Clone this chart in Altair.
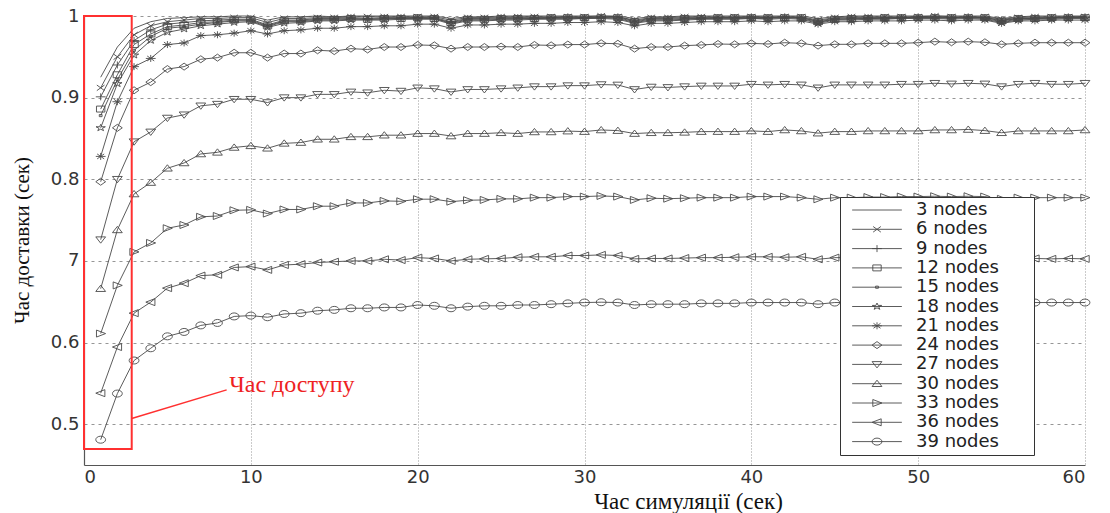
import altair as alt
import pandas as pd

# ---------------- data ----------------
x_values = list(range(1, 61))

series_labels = ["\u00a03 nodes", "\u00a06 nodes", "\u00a09 nodes", "12 nodes", "15 nodes",
                 "18 nodes", "21 nodes", "24 nodes", "27 nodes", "30 nodes",
                 "33 nodes", "36 nodes", "39 nodes"]

s3 = [0.925, 0.962, 0.985, 0.993, 0.997, 0.998, 0.999, 0.999, 1.000, 1.000,
      0.995, 0.999, 0.999, 1.000, 0.999, 1.000, 1.000, 1.000, 1.000, 1.000,
      1.000, 0.997, 0.999, 0.999, 1.000, 1.000, 1.000, 1.000, 1.000, 1.000,
      1.000, 1.000, 0.997, 0.999, 0.999, 1.000, 1.000, 1.000, 1.000, 1.000,
      1.000, 1.000, 1.000, 0.997, 0.999, 1.000, 1.000, 1.000, 1.000, 1.000,
      1.000, 1.000, 1.000, 1.000, 0.997, 0.999, 1.000, 1.000, 1.000, 1.000]
s6 = [0.912, 0.950, 0.977, 0.988, 0.993, 0.995, 0.997, 0.997, 0.998, 0.998,
      0.992, 0.997, 0.997, 0.998, 0.998, 0.999, 0.999, 0.999, 0.999, 0.999,
      0.999, 0.995, 0.998, 0.998, 0.999, 0.999, 0.999, 0.999, 0.999, 0.999,
      1.000, 0.999, 0.995, 0.998, 0.998, 0.999, 0.999, 0.999, 0.999, 0.999,
      0.999, 0.999, 0.999, 0.995, 0.998, 0.999, 0.999, 0.999, 0.999, 0.999,
      1.000, 0.999, 0.999, 0.999, 0.996, 0.998, 0.999, 0.999, 0.999, 0.999]
s9 = [0.901, 0.940, 0.970, 0.983, 0.990, 0.992, 0.994, 0.995, 0.996, 0.996,
      0.989, 0.995, 0.995, 0.997, 0.997, 0.998, 0.997, 0.998, 0.998, 0.998,
      0.998, 0.993, 0.997, 0.997, 0.998, 0.998, 0.998, 0.998, 0.999, 0.998,
      0.999, 0.999, 0.994, 0.997, 0.997, 0.998, 0.998, 0.998, 0.998, 0.999,
      0.998, 0.999, 0.998, 0.994, 0.997, 0.998, 0.998, 0.998, 0.998, 0.999,
      0.999, 0.998, 0.999, 0.998, 0.995, 0.997, 0.998, 0.998, 0.999, 0.999]
s12 = [0.886, 0.928, 0.965, 0.978, 0.987, 0.989, 0.992, 0.993, 0.995, 0.995,
       0.988, 0.994, 0.994, 0.996, 0.996, 0.997, 0.996, 0.997, 0.997, 0.998,
       0.997, 0.992, 0.996, 0.996, 0.997, 0.997, 0.997, 0.998, 0.998, 0.998,
       0.998, 0.998, 0.993, 0.996, 0.996, 0.997, 0.997, 0.998, 0.998, 0.998,
       0.998, 0.998, 0.998, 0.993, 0.996, 0.997, 0.997, 0.998, 0.998, 0.998,
       0.998, 0.998, 0.998, 0.998, 0.994, 0.997, 0.997, 0.998, 0.998, 0.998]
s15 = [0.878, 0.922, 0.958, 0.975, 0.985, 0.987, 0.990, 0.992, 0.994, 0.994,
       0.987, 0.993, 0.993, 0.995, 0.995, 0.996, 0.996, 0.996, 0.997, 0.997,
       0.997, 0.991, 0.995, 0.995, 0.996, 0.996, 0.997, 0.997, 0.997, 0.997,
       0.998, 0.997, 0.992, 0.995, 0.995, 0.996, 0.997, 0.997, 0.997, 0.997,
       0.997, 0.998, 0.997, 0.992, 0.996, 0.996, 0.997, 0.997, 0.997, 0.998,
       0.998, 0.997, 0.998, 0.997, 0.993, 0.996, 0.997, 0.997, 0.998, 0.998]
s18 = [0.863, 0.917, 0.952, 0.970, 0.980, 0.984, 0.988, 0.990, 0.992, 0.993,
       0.986, 0.991, 0.992, 0.994, 0.994, 0.995, 0.995, 0.995, 0.996, 0.996,
       0.996, 0.990, 0.994, 0.994, 0.995, 0.995, 0.996, 0.996, 0.996, 0.997,
       0.997, 0.996, 0.991, 0.994, 0.994, 0.995, 0.996, 0.996, 0.996, 0.997,
       0.996, 0.997, 0.996, 0.991, 0.995, 0.995, 0.996, 0.996, 0.997, 0.997,
       0.997, 0.996, 0.997, 0.996, 0.992, 0.995, 0.996, 0.996, 0.997, 0.997]
s21 = [0.828, 0.895, 0.938, 0.948, 0.965, 0.967, 0.976, 0.977, 0.979, 0.982,
       0.978, 0.982, 0.983, 0.985, 0.985, 0.987, 0.987, 0.988, 0.988, 0.990,
       0.990, 0.985, 0.989, 0.989, 0.990, 0.990, 0.991, 0.991, 0.992, 0.992,
       0.993, 0.992, 0.988, 0.991, 0.991, 0.992, 0.993, 0.993, 0.993, 0.994,
       0.993, 0.994, 0.994, 0.990, 0.993, 0.993, 0.994, 0.994, 0.994, 0.995,
       0.995, 0.994, 0.995, 0.995, 0.991, 0.994, 0.994, 0.995, 0.995, 0.995]
s24 = [0.797, 0.863, 0.909, 0.919, 0.935, 0.938, 0.947, 0.949, 0.955, 0.955,
       0.949, 0.954, 0.954, 0.958, 0.957, 0.960, 0.959, 0.962, 0.962, 0.9645,
       0.964, 0.960, 0.962, 0.962, 0.9625, 0.962, 0.9645, 0.964, 0.965, 0.965,
       0.9666, 0.966, 0.960, 0.962, 0.962, 0.9637, 0.9645, 0.9657, 0.9653, 0.9665,
       0.9657, 0.9673, 0.9665, 0.9637, 0.9653, 0.9653, 0.9665, 0.9665, 0.9665, 0.9673,
       0.9686, 0.9678, 0.9686, 0.9678, 0.9653, 0.9665, 0.9673, 0.9673, 0.9673, 0.9673]
s27 = [0.726, 0.800, 0.846, 0.858, 0.875, 0.879, 0.890, 0.892, 0.898, 0.898,
       0.894, 0.900, 0.900, 0.904, 0.904, 0.907, 0.906, 0.909, 0.908, 0.912,
       0.911, 0.907, 0.910, 0.910, 0.911, 0.912, 0.9135, 0.9135, 0.9147, 0.9147,
       0.916, 0.9155, 0.910, 0.913, 0.9125, 0.9135, 0.9143, 0.9143, 0.9143, 0.9164,
       0.9156, 0.9164, 0.9156, 0.912, 0.9156, 0.9156, 0.9156, 0.9156, 0.9164, 0.9164,
       0.9176, 0.9168, 0.9176, 0.9168, 0.9135, 0.9164, 0.9176, 0.9164, 0.9164, 0.9176]
s30 = [0.666, 0.738, 0.782, 0.796, 0.8135, 0.820, 0.831, 0.833, 0.839, 0.841,
       0.838, 0.844, 0.845, 0.849, 0.849, 0.852, 0.852, 0.854, 0.854, 0.856,
       0.856, 0.853, 0.856, 0.856, 0.857, 0.856, 0.858, 0.858, 0.859, 0.8584,
       0.8604, 0.8596, 0.856, 0.857, 0.857, 0.8575, 0.8584, 0.8584, 0.8584, 0.8592,
       0.8584, 0.8604, 0.8592, 0.8565, 0.8584, 0.8584, 0.8592, 0.8592, 0.8592, 0.8592,
       0.8604, 0.8604, 0.861, 0.8596, 0.857, 0.8592, 0.8592, 0.8592, 0.8592, 0.8604]
s33 = [0.611, 0.670, 0.711, 0.722, 0.740, 0.744, 0.754, 0.755, 0.762, 0.7625,
       0.758, 0.763, 0.763, 0.767, 0.767, 0.771, 0.771, 0.7735, 0.773, 0.7756,
       0.7756, 0.7726, 0.7743, 0.7747, 0.776, 0.776, 0.7775, 0.7775, 0.7788, 0.7788,
       0.7796, 0.7788, 0.7747, 0.7768, 0.7762, 0.7768, 0.7775, 0.7775, 0.7775, 0.7788,
       0.7788, 0.7788, 0.7775, 0.7755, 0.7775, 0.7775, 0.7782, 0.7782, 0.7788, 0.7788,
       0.7792, 0.7788, 0.7792, 0.7788, 0.776, 0.7775, 0.7775, 0.7775, 0.7775, 0.7775]
s36 = [0.538, 0.5945, 0.636, 0.6495, 0.6667, 0.6727, 0.682, 0.683, 0.692, 0.693,
       0.689, 0.695, 0.696, 0.698, 0.699, 0.700, 0.700, 0.702, 0.701, 0.704,
       0.703, 0.700, 0.702, 0.7025, 0.703, 0.7045, 0.705, 0.705, 0.7066, 0.7066,
       0.7074, 0.7066, 0.7025, 0.703, 0.703, 0.7035, 0.704, 0.704, 0.7045, 0.705,
       0.705, 0.7045, 0.705, 0.702, 0.704, 0.704, 0.7045, 0.7045, 0.705, 0.705,
       0.705, 0.7045, 0.705, 0.7045, 0.702, 0.703, 0.703, 0.7025, 0.703, 0.7025]
s39 = [0.481, 0.5375, 0.578, 0.593, 0.6076, 0.613, 0.621, 0.624, 0.632, 0.633,
       0.631, 0.635, 0.636, 0.639, 0.640, 0.642, 0.642, 0.643, 0.643, 0.646,
       0.645, 0.642, 0.644, 0.645, 0.645, 0.646, 0.646, 0.647, 0.648, 0.649,
       0.6494, 0.649, 0.646, 0.647, 0.647, 0.647, 0.648, 0.648, 0.648, 0.649,
       0.649, 0.649, 0.649, 0.647, 0.649, 0.649, 0.6494, 0.6494, 0.6494, 0.6494,
       0.6494, 0.649, 0.649, 0.649, 0.647, 0.648, 0.649, 0.649, 0.649, 0.649]

all_series = [s3, s6, s9, s12, s15, s18, s21, s24, s27, s30, s33, s36, s39]

x_ticks = [0, 10, 20, 30, 40, 50, 60]
y_ticks = [0.5, 0.6, 0.7, 0.8, 0.9, 1.0]

x_title = "Час симуляції (сек)"
y_title = "Час доставки (сек)"

# highlighted "access time" region and its callout
box_x = [0.0, 2.86]
box_y = [0.4695, 1.0]
pointer_x = [2.86, 8.55]
pointer_y = [0.507, 0.542]
callout_text = "Час доступу"
callout_xy = [8.7, 0.548]

# ---------------- marker styles (MATLAB-like, horizontally stretched) ----------------
marker_paths = [
    "M0,0",                                                   # none
    "M-1.1,-0.8L1.1,0.8M-1.1,0.8L1.1,-0.8",                  # x
    "M-1.4,0L1.4,0M0,-1L0,1",                                # +
    "M-1.2,-0.85L1.2,-0.85L1.2,0.85L-1.2,0.85Z",             # square
    "M-0.4,-0.3L0.4,-0.3L0.4,0.3L-0.4,0.3Z",                 # .
    "M0,-1L0.314,-0.309L1.331,-0.309L0.508,0.118L0.823,0.809L0,0.382L-0.823,0.809L-0.508,0.118L-1.331,-0.309L-0.314,-0.309Z",  # pentagram
    "M-1.4,0L1.4,0M0,-1L0,1M-1,-0.7L1,0.7M-1,0.7L1,-0.7",   # *
    "M0,-1L1.4,0L0,1L-1.4,0Z",                               # diamond
    "M-1.4,-0.8L1.4,-0.8L0,1Z",                              # v
    "M-1.4,0.8L1.4,0.8L0,-1Z",                               # ^
    "M-1.2,-1L1.4,0L-1.2,1Z",                                # >
    "M1.2,-1L-1.4,0L1.2,1Z",                                 # <
    "M1.4,0C1.4,0.552 0.773,1 0,1C-0.773,1 -1.4,0.552 -1.4,0C-1.4,-0.552 -0.773,-1 0,-1C0.773,-1 1.4,-0.552 1.4,0Z",  # o
]
legend_line = "M-7.1,0L7.1,0"
legend_extent = "M43,0"   # widens the legend frame to the right, draws nothing
legend_paths = [legend_line + ("" if p == "M0,0" else p) + legend_extent for p in marker_paths]

# ---------------- tables ----------------
rows = []
for label, vals in zip(series_labels, all_series):
    for xv, yv in zip(x_values, vals):
        rows.append({"series": label, "x": xv, "y": yv})
df = pd.DataFrame(rows)

box_df = pd.DataFrame({"x": [box_x[0]], "x2": [box_x[1]], "y": [box_y[0]], "y2": [box_y[1]]})
pointer_df = pd.DataFrame({"x": [pointer_x[0]], "x2": [pointer_x[1]], "y": [pointer_y[0]], "y2": [pointer_y[1]]})
callout_df = pd.DataFrame({"x": [callout_xy[0]], "y": [callout_xy[1]], "text": [callout_text]})

LINE = "#4a4a4a"
RED = "#ff3030"

x_scale = alt.Scale(domain=[0, 60], nice=False, zero=False)
y_scale = alt.Scale(domain=[0.45, 1.0], nice=False, zero=False)

x_axis = alt.Axis(values=x_ticks, format="d", grid=True, gridDash=[1, 2], gridColor="#8a8a8a",
                  gridWidth=0.9, ticks=False, domainColor="#555555", domainWidth=1.2,
                  labelFont="DejaVu Sans", labelFontSize=18, labelColor="#333333", labelPadding=3,
                  titleFont="Liberation Serif", titleFontSize=23, titleFontWeight="normal",
                  titleColor="#111111", titleX=604, titleY=25, titleBaseline="top")
y_axis = alt.Axis(values=y_ticks, grid=True, gridDash=[3, 4], gridColor="#8a8a8a", gridWidth=0.9,
                  ticks=False, domainColor="#555555", domainWidth=1.2,
                  labelExpr="datum.value == 1 ? '1' : (abs(datum.value - 0.7) < 0.001 ? '7' : format(datum.value, '.1f'))",
                  labelFont="DejaVu Sans", labelFontSize=18, labelColor="#333333", labelPadding=5,
                  titleFont="Liberation Serif", titleFontSize=21, titleFontWeight="normal",
                  titleColor="#111111", titleX=-52, titleY=224)


def X(field="x"):
    return alt.X(f"{field}:Q", scale=x_scale, axis=x_axis, title=x_title)


def Y(field="y"):
    return alt.Y(f"{field}:Q", scale=y_scale, axis=y_axis, title=y_title)


base = alt.Chart(df)

lines = base.mark_line(color=LINE, strokeWidth=0.9, opacity=1).encode(
    x=X(), y=Y(), detail="series:N"
)

points = base.mark_point(filled=False, color=LINE, strokeWidth=0.9, size=49, opacity=1).encode(
    x=X(), y=Y(),
    shape=alt.Shape("series:N", scale=alt.Scale(domain=series_labels, range=marker_paths), legend=None),
)

legend_layer = base.transform_filter("datum.x < 0").mark_point(
    filled=False, color=LINE, strokeWidth=0.9, size=49, opacity=1
).encode(
    x=X(), y=Y(),
    shape=alt.Shape(
        "series:N",
        scale=alt.Scale(domain=series_labels, range=legend_paths),
        legend=alt.Legend(
            title=None, orient="none", legendX=756, legendY=181, direction="vertical",
            fillColor="white", strokeColor="#333333", padding=4,
            labelFont="DejaVu Sans", labelFontSize=18, labelColor="#222222", labelLimit=300,
            symbolSize=49, symbolStrokeWidth=0.9, symbolStrokeColor=LINE,
            symbolOffset=24, labelOffset=30, rowPadding=1.3,
        ),
    ),
)

box = alt.Chart(box_df).mark_rect(fillOpacity=0, stroke=RED, strokeWidth=2).encode(
    x=X(), x2="x2", y=Y(), y2="y2"
)
pointer = alt.Chart(pointer_df).mark_rule(color=RED, strokeWidth=1.5).encode(
    x=X(), x2="x2", y=Y(), y2="y2"
)
callout = alt.Chart(callout_df).mark_text(
    align="left", baseline="middle", font="Liberation Serif", fontSize=24, color="#ee2222"
).encode(x=X(), y=Y(), text="text:N")

chart = (
    alt.layer(lines, points, box, pointer, callout, legend_layer)
    .resolve_scale(shape="independent")
    .properties(
        width=1001, height=449, background="white",
        autosize=alt.AutoSizeParams(type="none"),
        padding={"left": 84, "top": 16, "right": 25, "bottom": 48},
    )
    .configure_view(stroke=None)
)

chart.save("out.html", embed_options={"renderer": "svg", "actions": False})
